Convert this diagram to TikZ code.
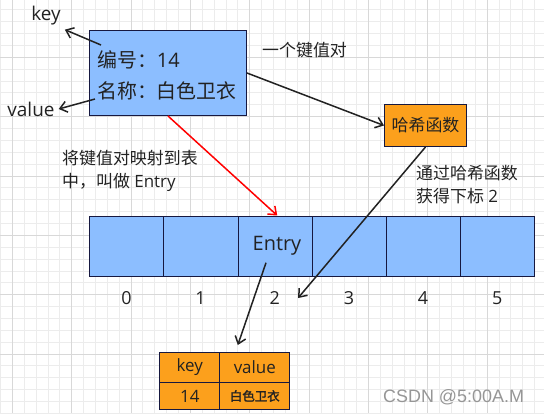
\documentclass[tikz,border=0pt]{standalone}
\usepackage{fontspec}
\setmainfont{Open Sans}
\newfontfamily\cjk{Noto Sans CJK SC}
\newfontfamily\cjkbold[FakeBold=2]{Noto Sans CJK SC}
\newfontfamily\wmfont{Liberation Sans}
\usetikzlibrary{arrows.meta, positioning}
\definecolor{boxblue}{RGB}{140,190,255}
\definecolor{hashorange}{RGB}{252,160,28}
\definecolor{edgenavy}{RGB}{22,24,64}
\definecolor{inkgray}{RGB}{34,34,34}

\begin{document}
\begin{tikzpicture}[
        x=1bp, y=-1bp,
        grid_minor/.style={draw={rgb,255:red,236;green,236;blue,236}, line width=0.8bp},
        grid_major/.style={draw={rgb,255:red,216;green,216;blue,216}, line width=0.8bp},
        record_box/.style={
            draw=edgenavy,
            fill=boxblue,
            line width=1bp,
            inner sep=0pt
        },
        hash_box/.style={
            draw=edgenavy,
            fill=hashorange,
            line width=1bp,
            inner sep=0pt
        },
        cell_box/.style={
            draw=edgenavy,
            fill=boxblue,
            line width=1bp,
            inner sep=0pt,
            minimum width=74.17bp,
            minimum height=60bp
        },
        pair_cell/.style={
            draw=edgenavy,
            fill=hashorange,
            line width=1bp,
            inner sep=0pt
        },
        label_text/.style={
            font=\fontsize{17}{23}\selectfont,
            text=inkgray,
            inner sep=0pt,
            align=left
        },
        arrow_style/.style={
            -{Straight Barb[length=7bp, width=11bp]},
            line width=1.5bp,
            draw=inkgray
        }
    ]
        % background and grid
        \useasboundingbox (0,0) rectangle (544,413);
        \fill[white] (0,0) rectangle (544,413);
        \foreach \k in {0,...,46}
            \draw[grid_minor] ({0.43+11.87*\k},0) -- ({0.43+11.87*\k},413);
        \foreach \k in {0,...,35}
            \draw[grid_minor] (0,{9.77+11.87*\k}) -- (544,{9.77+11.87*\k});
        \foreach \k in {0,...,9}
            \draw[grid_major] ({12.3+59.35*\k},0) -- ({12.3+59.35*\k},413);
        \foreach \k in {0,...,5}
            \draw[grid_major] (0,{354-59.35*\k}) -- (544,{354-59.35*\k});

        % key-value pair
        \node[record_box, minimum width=157bp, minimum height=85bp, anchor=north west] (record) at (89,30) {};
        \node[label_text, font=\fontsize{20}{30}\selectfont, anchor=west] (record_id) at (97,60) {{\cjk 编号：}14};
        \node[label_text, font=\fontsize{20}{30}\selectfont, anchor=west] (record_name) at (97,91) {\cjk 名称：白色卫衣};
        \node[label_text, font=\fontsize{19}{23}\selectfont] (key_label) at (46,16) {key};
        \node[label_text, font=\fontsize{19}{23}\selectfont] (value_label) at (31,109) {value};
        \draw[arrow_style] ([shift={(12,15)}]record.north west) -- ([shift={(4,4)}]key_label.south east);
        \draw[arrow_style] ([shift={(6,-17)}]record.south west) -- ([xshift=4]value_label.east);
        \node[label_text, anchor=west] (pair_note) at (262,50) {\cjk 一个键值对};

        % hash function
        \node[hash_box, minimum width=82bp, minimum height=42bp, anchor=north west] (hash) at (384,104) {};
        \node[label_text] at (hash.center) {\cjk 哈希函数};
        \draw[arrow_style] (record.east) -- (hash.west);
        \node[label_text, anchor=north west] (hash_note) at (416,165) {{\cjk 通过哈希函数}\\{\cjk 获得下标} 2};

        % table
        \foreach \i in {0,...,5} {
            \node[cell_box, anchor=west] (cell_\i) at ({89.3+74.17*\i},246) {};
            \node[label_text, font=\fontsize{18}{23}\selectfont] (idx_\i) at ({126.4+74.17*\i},298) {\i};
        }
        \node[label_text, font=\fontsize{20}{23}\selectfont] (entry_text) at (277,246) {Entry};
        \node[label_text, anchor=north west] (map_note) at (62,150) {{\cjk 将键值对映射到表}\\{\cjk 中，叫做} Entry};
        \draw[arrow_style, draw=red] (record.south) -- ([xshift=2]cell_2.north);
        \draw[arrow_style] (hash.south) -- ([shift={(18,0)}]idx_2.east);

        % entry contents
        \node[pair_cell, minimum width=60bp, minimum height=30bp, anchor=north west] (kv_key) at (159.3,352) {};
        \node[pair_cell, minimum width=70bp, minimum height=30bp, anchor=north west] (kv_value) at (219.3,352) {};
        \node[pair_cell, minimum width=60bp, minimum height=27bp, anchor=north west] (kv_num) at (159.3,382) {};
        \node[pair_cell, minimum width=70bp, minimum height=27bp, anchor=north west] (kv_name) at (219.3,382) {};
        \node[label_text] at (kv_key.center) {key};
        \node[label_text] at (kv_value.center) {value};
        \node[label_text] at (kv_num.center) {14};
        \node[label_text, font=\fontsize{12.5}{15}\selectfont] at (kv_name.center) {\cjkbold 白色卫衣};
        \draw[arrow_style] ([shift={(-11,7)}]entry_text.south) -- ([shift={(-17,-7)}]kv_value.north);

        % watermark
        \node[font=\wmfont\fontsize{18}{20}\selectfont, text={rgb,255:red,150;green,150;blue,150}, inner sep=0pt, anchor=west] (mark) at (383,397) {CSDN @5:00A.M};
    \end{tikzpicture}
\end{document}
